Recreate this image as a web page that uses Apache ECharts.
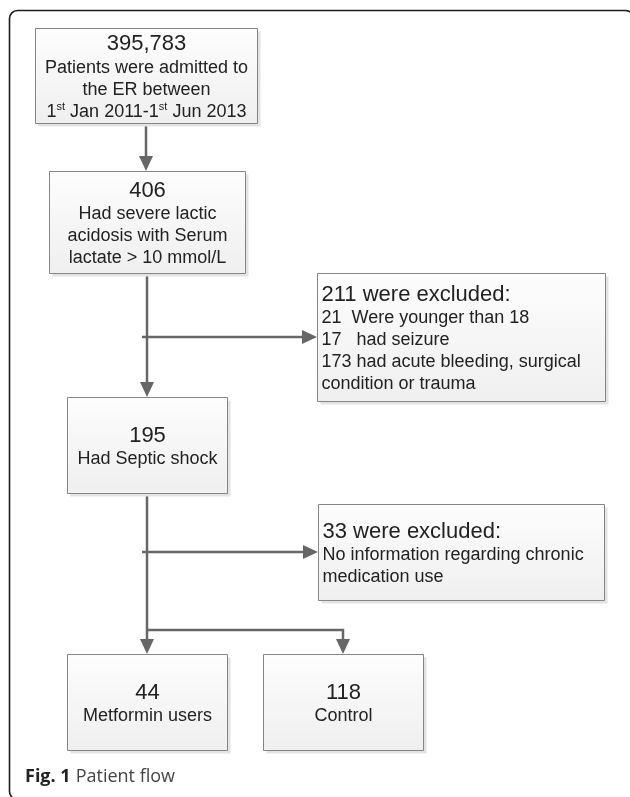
<!DOCTYPE html>
<html>
<head>
<meta charset="utf-8">
<script src="https://cdn.jsdelivr.net/npm/echarts@6/dist/echarts.min.js"></script>
<style>
  html, body { margin: 0; padding: 0; background: #fff; }
  #chart { width: 630px; height: 797px; }
</style>
</head>
<body>
<div id="chart"></div>
<script>
// flow steps (main column + bottom split)
const stepCounts = ['395,783', '406', '195', '44', '118']
const stepLines = [
  ['Patients were admitted to', 'the ER between', '1{s|st} Jan 2011-1{s|st} Jun 2013'],
  ['Had severe lactic', 'acidosis with Serum', 'lactate > 10 mmol/L'],
  ['Had Septic shock'],
  ['Metformin users'],
  ['Control'],
]
// exclusion boxes on the right
const excludedCounts = [211, 33]
const excludedLines = [
  ['21  Were younger than 18', '17   had seizure', '173 had acute bleeding, surgical', 'condition or trauma'],
  ['No information regarding chronic', 'medication use'],
]
// connections: [from, to, kind]; boxes 0-4 are steps, 5-6 exclusions
const links = [
  [0, 1, 'down'], [1, 2, 'down'], [1, 5, 'side'],
  [2, 3, 'down'], [2, 6, 'side'], [2, 4, 'split'],
]

// layout in page units (x, y, w, h)
const layout = [
  [35, 28, 222, 95],
  [49, 171, 196, 102],
  [67, 397, 160, 96],
  [67, 654, 160, 96],
  [263, 654, 160, 96],
  [317, 273, 288, 128],
  [318, 504, 286, 96],
]

const FONT = '"Liberation Sans", Arial, Helvetica, sans-serif'
const INK = '#222222'
const LINE = '#676767'

function boxText(i) {
  if (i < stepCounts.length) {
    return ['{c|' + stepCounts[i] + '}'].concat(stepLines[i].map(l => l.indexOf('{') >= 0
      ? '{d|' + l.replace(/\{s\|st\}/g, '}{s|st}{d|') + '}'
      : '{d|' + l + '}')).join('\n')
  }
  const k = i - stepCounts.length
  return ['{c|' + excludedCounts[k] + ' were excluded:}']
    .concat(excludedLines[k].map(l => '{d|' + l + '}')).join('\n')
}

const rich = {
  c: { fontSize: 22, lineHeight: 26, fontFamily: FONT, fill: INK },
  d: { fontSize: 18, lineHeight: 22, fontFamily: FONT, fill: INK },
  s: { fontSize: 11, lineHeight: 11, fontFamily: FONT, fill: INK, verticalAlign: 'top' },
}

function renderBox(params, api) {
  const i = api.value(4)
  const p0 = api.coord([api.value(0), api.value(1)])
  const p1 = api.coord([api.value(0) + api.value(2), api.value(1) + api.value(3)])
  const x = Math.round(p0[0]) + 0.5, y = Math.round(p0[1]) + 0.5
  const w = Math.round(p1[0] - p0[0]), h = Math.round(p1[1] - p0[1])
  const isExcl = i >= stepCounts.length
  return {
    type: 'group',
    children: [
      { type: 'rect', shape: { x: x + 3, y: y + 3, width: w, height: h }, style: { fill: '#e3e3e3' } },
      {
        type: 'rect',
        shape: { x: x, y: y, width: w, height: h },
        style: {
          fill: new echarts.graphic.LinearGradient(0, 0, 0, 1, [
            { offset: 0, color: '#fdfdfd' },
            { offset: 1, color: '#efefef' },
          ]),
          stroke: '#858585',
          lineWidth: 1,
        },
      },
      {
        type: 'text',
        style: {
          text: boxText(i),
          rich: rich,
          x: isExcl ? x + 4 : x + w / 2,
          y: y + h / 2 + 1,
          align: isExcl ? 'left' : 'center',
          verticalAlign: 'middle',
        },
      },
    ],
  }
}

function arrowHead(tip, dir) {
  const L = 15, W = 7
  if (dir === 'down') return [[tip[0], tip[1]], [tip[0] - W, tip[1] - L], [tip[0] + W, tip[1] - L]]
  return [[tip[0], tip[1]], [tip[0] - L, tip[1] - W], [tip[0] - L, tip[1] + W]]
}

function renderLink(params, api) {
  const e = links[api.value(0)]
  const a = layout[e[0]], b = layout[e[1]]
  const ax = a[0] + a[2] / 2
  let pts, tip, dir
  if (e[2] === 'down') {
    const t = api.coord([ax, b[1]])
    pts = [api.coord([ax, a[1] + a[3]]), [t[0], t[1] - 14]]
    tip = t; dir = 'down'
  } else if (e[2] === 'side') {
    const cy = b[1] + b[3] / 2
    const t = api.coord([b[0], cy])
    pts = [api.coord([ax - 5, cy]), [t[0] - 14, t[1]]]
    tip = t; dir = 'right'
  } else {
    const bx = b[0] + b[2] / 2
    const ySplit = b[1] - 24
    const t = api.coord([bx, b[1]])
    pts = [api.coord([ax, ySplit]), api.coord([bx, ySplit]), [t[0], t[1] - 14]]
    tip = t; dir = 'down'
  }
  pts = pts.map(p => [Math.round(p[0]), Math.round(p[1])])
  tip = [Math.round(tip[0]), Math.round(tip[1])]
  return {
    type: 'group',
    children: [
      { type: 'polyline', shape: { points: pts }, style: { stroke: LINE, lineWidth: 2.5, fill: null } },
      { type: 'polygon', shape: { points: arrowHead(tip, dir) }, style: { fill: LINE } },
    ],
  }
}

const chart = echarts.init(document.getElementById('chart'), null, { renderer: 'canvas' })
chart.setOption({
  animation: false,
  backgroundColor: '#ffffff',
  grid: { left: 0, right: 0, top: 0, bottom: 0 },
  xAxis: { type: 'value', min: 0, max: 630, show: false },
  yAxis: { type: 'value', min: 0, max: 797, inverse: true, show: false },
  title: {
    text: '{b|Fig. 1} {n|Patient flow}',
    left: 25,
    top: 768,
    padding: 0,
    textStyle: {
      fontWeight: 'normal',
      rich: {
        b: { fontFamily: '"Open Sans", sans-serif', fontWeight: 'bold', fontSize: 18, color: '#222' },
        n: { fontFamily: '"Open Sans", sans-serif', fontWeight: 'normal', fontSize: 18, color: '#444' },
      },
    },
  },
  graphic: [{
    type: 'rect',
    shape: { x: 9.5, y: 10.5, width: 624, height: 789, r: 8 },
    style: { fill: null, stroke: '#1c1c1c', lineWidth: 1.6 },
    silent: true,
    z: 0,
  }],
  series: [
    {
      type: 'custom',
      clip: false,
      data: links.map((l, i) => [i]),
      encode: { x: [], y: [] },
      renderItem: renderLink,
      z: 2,
    },
    {
      type: 'custom',
      clip: false,
      data: layout.map((b, i) => [b[0], b[1], b[2], b[3], i]),
      encode: { x: 0, y: 1 },
      renderItem: renderBox,
      z: 3,
    },
  ],
})
</script>
</body>
</html>
